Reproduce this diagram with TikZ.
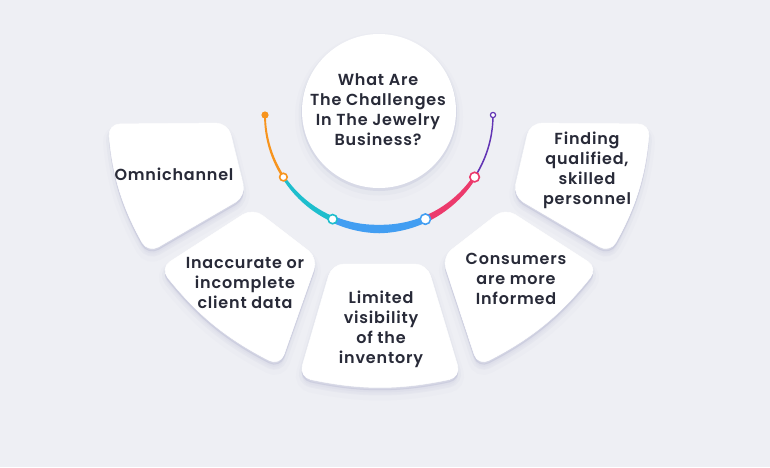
\documentclass[tikz,border=0pt]{standalone}
\usepackage{fontspec}
\setmainfont{Poppins}[BoldFont={Poppins SemiBold}, LetterSpace=5]
\usetikzlibrary{calc}
\definecolor{bg}{RGB}{238,239,244}
\definecolor{shd}{RGB}{185,187,212}
\definecolor{txt}{RGB}{40,42,56}
\definecolor{corange}{RGB}{247,148,29}
\definecolor{ccyan}{RGB}{30,190,205}
\definecolor{cblue}{RGB}{66,158,242}
\definecolor{cpink}{RGB}{236,58,108}
\definecolor{cpurple}{RGB}{98,52,180}
\newcommand{\cardshape}[5][]{\path[#1] ($(#2)!0.5!(#3)$) -- (#3) -- (#4) -- (#5) to[bend left=12] (#2) -- cycle;}
\newcommand{\cardshadow}[4]{%
  \cardshape[fill=shd, draw=shd, opacity=.05, line width=12pt, rounded corners=12pt, transform canvas={yshift=-7pt}]{#1}{#2}{#3}{#4}
  \cardshape[fill=shd, draw=shd, opacity=.10, line width=6pt, rounded corners=12pt, transform canvas={yshift=-5pt}]{#1}{#2}{#3}{#4}
  \cardshape[fill=shd, draw=shd, opacity=.30, line width=1pt, rounded corners=12pt, transform canvas={yshift=-2.5pt}]{#1}{#2}{#3}{#4}}
\newcommand{\cardfill}[4]{\cardshape[fill=white, draw=white, line width=.5pt, rounded corners=12pt]{#1}{#2}{#3}{#4}}
\newcommand{\taper}[5]{%
  \fill[#1] plot[domain=#2:#3, samples=40, variable=\t]
    ({379+(114+0.5*(#4+(#5-#4)*(\t-#2)/(#3-#2)))*cos(\t)}, {-115+(114+0.5*(#4+(#5-#4)*(\t-#2)/(#3-#2)))*sin(\t)})
    -- plot[domain=#3:#2, samples=40, variable=\t]
    ({379+(114-0.5*(#4+(#5-#4)*(\t-#2)/(#3-#2)))*cos(\t)}, {-115+(114-0.5*(#4+(#5-#4)*(\t-#2)/(#3-#2)))*sin(\t)})
    -- cycle;}
\tikzset{
  lbl/.style={font=\bfseries\fontsize{16}{20}\selectfont, text=txt, align=center, inner sep=0pt},
  joint/.style={fill=white, line width=1.6pt}
}
\begin{document}
\begin{tikzpicture}[x=1pt, y=1pt]
\useasboundingbox (0,0) rectangle (770,-467);
\fill[bg] (0,0) rectangle (770,-467);

% card corners: outer start, inner start, inner end, outer end
\coordinate (a1) at (108,-124); \coordinate (a2) at (228,-123); \coordinate (a3) at (246,-196); \coordinate (a4) at (148,-253);
\coordinate (b1) at (160,-268); \coordinate (b2) at (253,-208); \coordinate (b3) at (318,-258); \coordinate (b4) at (280,-366);
\coordinate (c1) at (299,-377); \coordinate (c2) at (332,-264); \coordinate (c3) at (427,-264); \coordinate (c4) at (461,-377);
\coordinate (d1) at (478,-366); \coordinate (d2) at (442,-257); \coordinate (d3) at (505,-208); \coordinate (d4) at (598,-268);
\coordinate (e1) at (610,-253); \coordinate (e2) at (513,-196); \coordinate (e3) at (530,-123); \coordinate (e4) at (650,-124);

\cardshadow{a1}{a2}{a3}{a4}
\cardshadow{b1}{b2}{b3}{b4}
\cardshadow{c1}{c2}{c3}{c4}
\cardshadow{d1}{d2}{d3}{d4}
\cardshadow{e1}{e2}{e3}{e4}
\cardfill{a1}{a2}{a3}{a4}
\cardfill{b1}{b2}{b3}{b4}
\cardfill{c1}{c2}{c3}{c4}
\cardfill{d1}{d2}{d3}{d4}
\cardfill{e1}{e2}{e3}{e4}

% central circle
\fill[shd, opacity=.05] (379,-117) circle (84);
\fill[shd, opacity=.10] (379,-115) circle (80.5);
\fill[shd, opacity=.30] (379,-113) circle (78);
\node[circle, fill=white, minimum size=154pt, inner sep=0pt] (hub) at (379,-111) {};
\node[lbl] (q) at (378,-110) {What Are\\The Challenges\\In The Jewelry\\Business?};

% labels
\node[lbl] (t1) at (174,-174) {Omnichannel};
\node[lbl] (t2) at (245,-283) {Inaccurate or\\incomplete\\client data};
\node[lbl] (t3) at (381,-329) {Limited\\visibility\\of the\\inventory};
\node[lbl] (t4) at (516,-279) {Consumers\\are more\\Informed};
\node[lbl] (t5) at (587,-170) {Finding\\qualified,\\skilled\\personnel};

% coloured arc
\taper{corange}{180}{213}{1.8}{2.6}
\taper{ccyan}{213}{246}{3}{5.5}
\taper{cblue}{246}{270}{6.5}{8.5}
\taper{cblue}{270}{294}{8.5}{6.5}
\taper{cpink}{294}{327}{6.5}{3.5}
\taper{cpurple}{327}{360}{1.6}{1.4}

\coordinate (j0) at ({379+114*cos(180)},{-115+114*sin(180)});
\coordinate (j1) at ({379+114*cos(213)},{-115+114*sin(213)});
\coordinate (j2) at ({379+114*cos(246)},{-115+114*sin(246)});
\coordinate (j3) at ({379+114*cos(294)},{-115+114*sin(294)});
\coordinate (j4) at ({379+114*cos(327)},{-115+114*sin(327)});
\coordinate (j5) at ({379+114*cos(360)},{-115+114*sin(360)});
\fill[corange] (j0) circle (3.6);
\draw[joint, draw=corange] (j1) circle (3.8);
\draw[joint, draw=ccyan] (j2) circle (4.6);
\draw[joint, draw=cblue] (j3) circle (5.2);
\draw[joint, draw=cpink] (j4) circle (4.8);
\draw[draw=cpurple, fill=white, line width=1.2pt] (j5) circle (2.6);
\end{tikzpicture}
\end{document}
